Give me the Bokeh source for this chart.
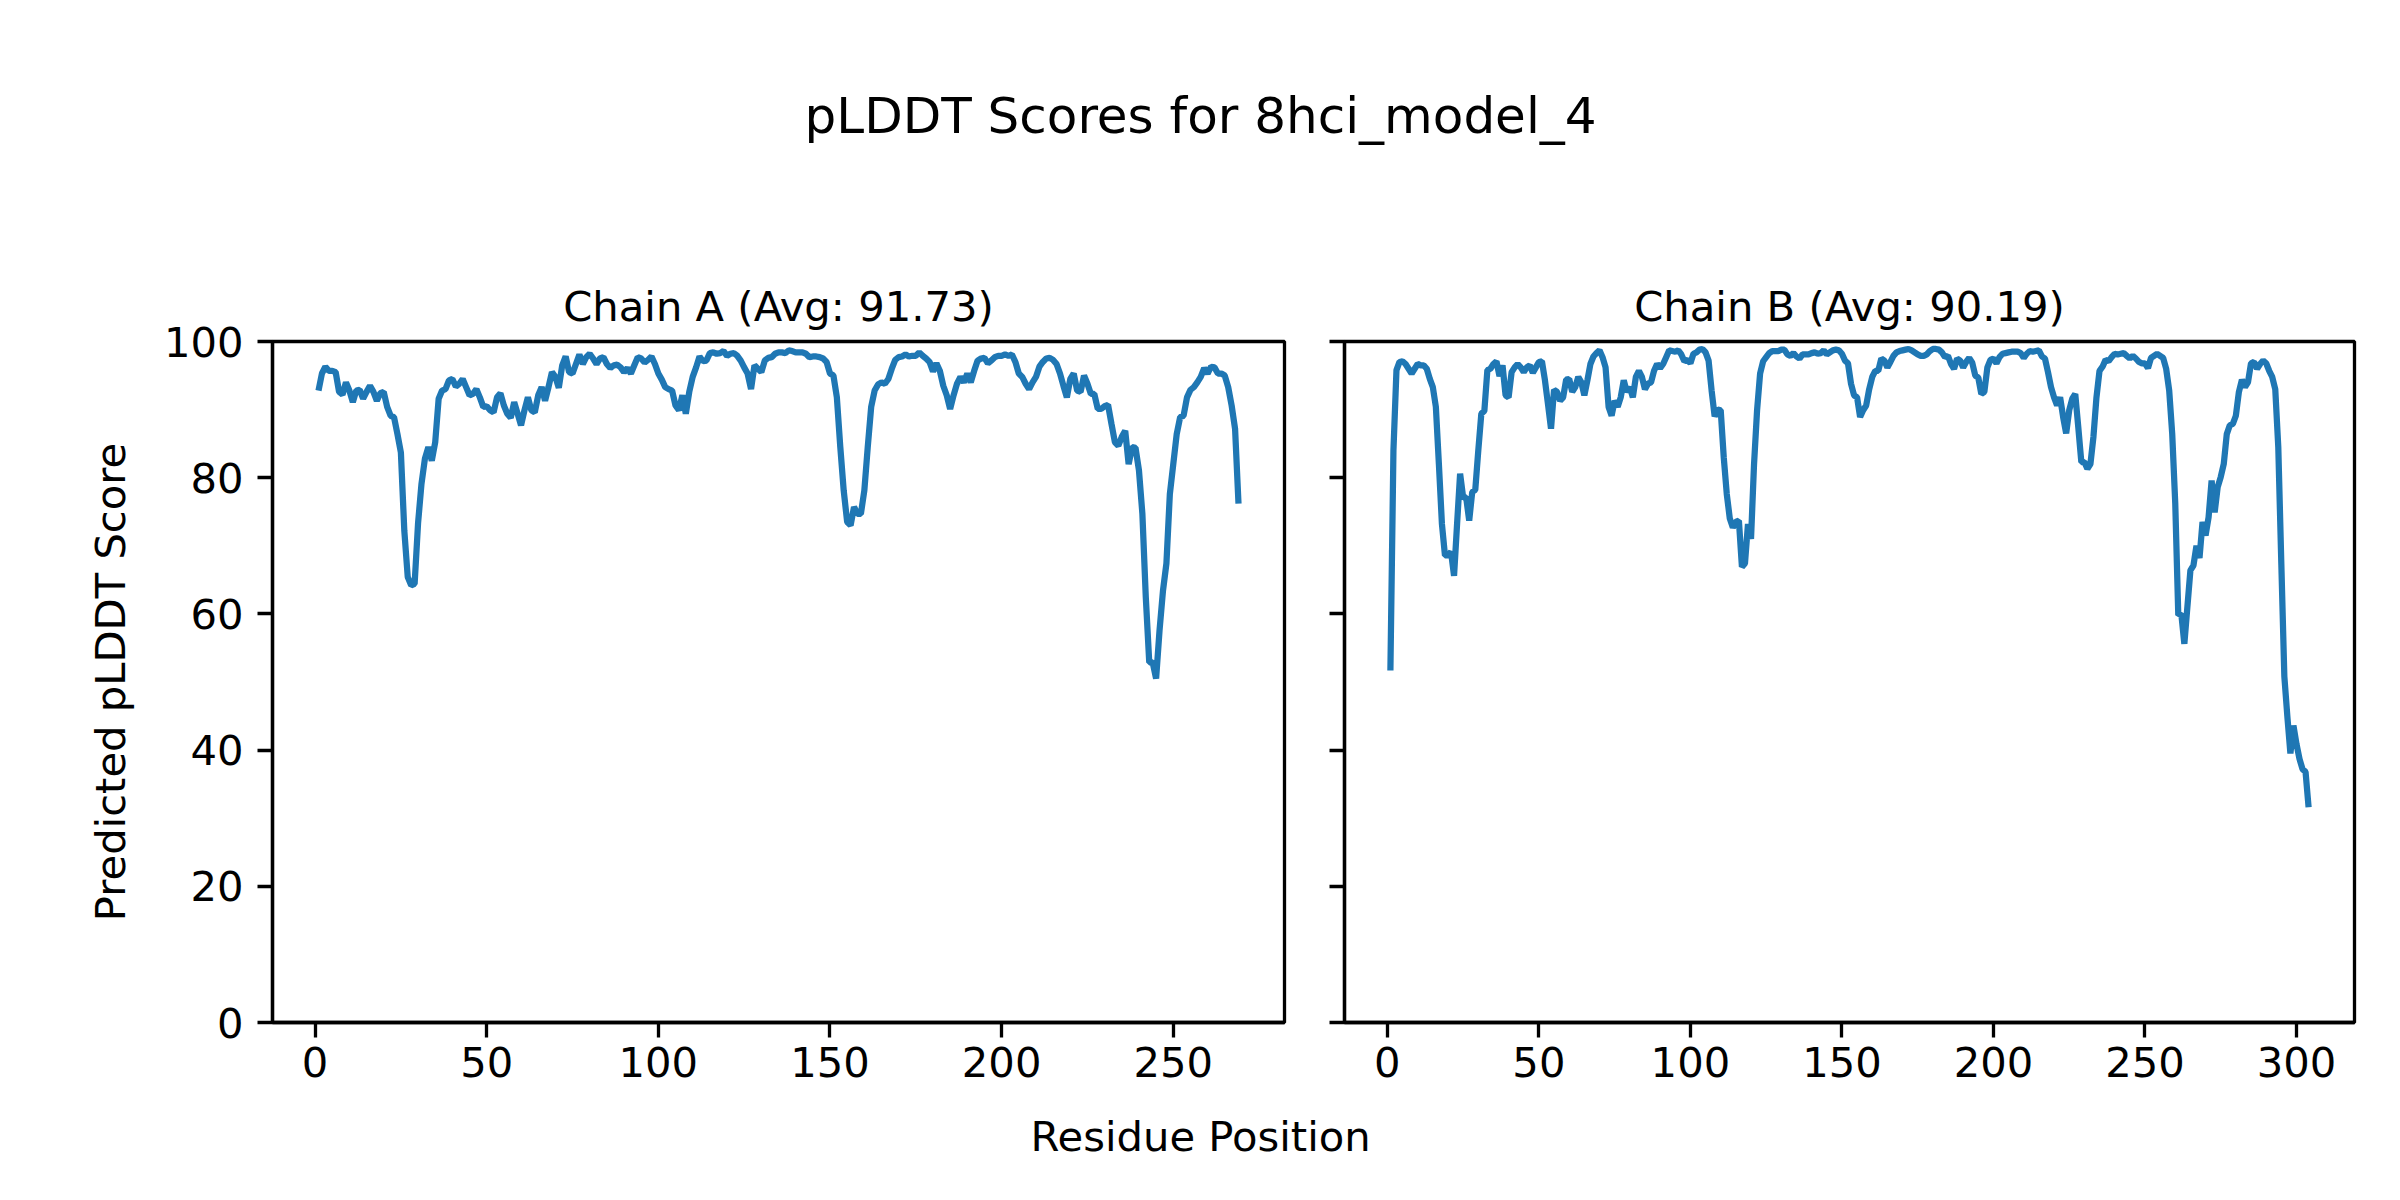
from bokeh.plotting import figure
from bokeh.models import Range1d, FixedTicker, CustomLabelingPolicy
from bokeh.layouts import column, row
from bokeh.embed import file_html
from bokeh.resources import INLINE
from bokeh.core.properties import value

main_title = "pLDDT Scores for 8hci_model_4"
x_label = "Residue Position"
y_label = "Predicted pLDDT Score"
title_a = "Chain A (Avg: 91.73)"
title_b = "Chain B (Avg: 90.19)"

xticks_a = [0, 50, 100, 150, 200, 250]
xticks_b = [0, 50, 100, 150, 200, 250, 300]
yticks = [0, 20, 40, 60, 80, 100]

scores_a = [
    92.8, 95.3, 96.3, 95.7, 95.7, 95.5, 92.6, 92.2, 94.0, 92.8,
    91.1, 92.8, 92.9, 91.6, 92.6, 93.5, 92.6, 91.3, 92.4, 92.6,
    90.4, 89.1, 88.9, 86.4, 83.7, 72.2, 65.4, 64.2, 64.4, 73.3,
    79.1, 82.8, 84.5, 82.5, 85.2, 91.6, 92.8, 93.0, 94.3, 94.5,
    93.4, 93.8, 94.5, 93.3, 92.1, 92.3, 93.0, 91.8, 90.4, 90.5,
    89.9, 89.6, 91.8, 92.4, 90.6, 89.4, 88.8, 91.1, 89.4, 87.7,
    89.9, 91.8, 89.9, 89.6, 92.1, 93.3, 91.3, 93.3, 95.5, 94.8,
    93.2, 96.5, 97.8, 95.5, 95.3, 96.7, 98.1, 96.7, 97.7, 98.2,
    97.5, 96.7, 97.5, 97.7, 96.7, 96.1, 96.5, 96.6, 96.2, 95.5,
    96.1, 95.3, 96.5, 97.7, 97.5, 96.9, 97.3, 97.8, 96.7, 95.3,
    94.4, 93.3, 93.0, 92.8, 90.6, 89.9, 92.1, 89.4, 92.6, 94.8,
    96.2, 97.8, 97.1, 97.2, 98.3, 98.4, 98.2, 98.3, 98.6, 97.9,
    98.2, 98.3, 97.9, 97.2, 96.2, 95.3, 93.0, 96.5, 96.0, 95.5,
    97.2, 97.6, 97.7, 98.2, 98.4, 98.4, 98.3, 98.7, 98.6, 98.4,
    98.4, 98.4, 98.2, 97.7, 97.8, 97.8, 97.7, 97.5, 97.0, 95.3,
    95.0, 91.8, 84.5, 78.1, 73.5, 73.0, 75.7, 74.7, 74.7, 78.1,
    84.5, 90.4, 92.8, 93.7, 94.0, 93.8, 94.5, 96.0, 97.3, 97.7,
    97.8, 98.1, 97.8, 97.9, 97.9, 98.4, 97.9, 97.5, 97.0, 95.6,
    96.8, 95.7, 93.5, 92.1, 90.1, 92.1, 93.8, 94.8, 94.0, 95.3,
    94.0, 95.7, 97.2, 97.5, 97.6, 96.8, 97.2, 97.7, 97.9, 97.9,
    98.1, 97.9, 98.1, 97.0, 95.3, 94.8, 93.8, 93.0, 94.0, 94.8,
    96.3, 97.0, 97.5, 97.6, 97.3, 96.7, 95.3, 93.5, 91.8, 94.5,
    95.3, 92.8, 92.6, 95.0, 93.8, 92.3, 92.3, 90.1, 90.1, 90.5,
    90.7, 87.9, 85.2, 84.7, 86.0, 86.9, 82.0, 84.5, 84.4, 81.1,
    74.7, 62.4, 52.9, 52.9, 50.5, 57.6, 63.4, 67.4, 77.6, 82.0,
    86.4, 88.9, 89.1, 91.8, 92.9, 93.3, 94.0, 94.8, 96.1, 95.3,
    96.3, 96.2, 95.3, 95.3, 95.0, 93.3, 90.6, 87.2, 76.2,
]

scores_b = [
    51.7, 84.0, 95.8, 97.0, 97.1, 96.7, 96.0, 95.3, 96.0, 96.7,
    96.5, 96.5, 96.0, 94.5, 93.3, 90.4, 82.0, 73.2, 68.6, 68.6,
    69.1, 65.6, 73.2, 80.6, 77.1, 77.1, 73.7, 77.9, 78.2, 84.0,
    89.4, 89.8, 95.8, 96.0, 96.7, 97.1, 94.9, 96.5, 92.1, 91.8,
    95.5, 96.2, 96.7, 96.2, 95.5, 96.2, 96.5, 95.4, 96.2, 97.0,
    97.1, 94.3, 90.8, 87.2, 92.9, 92.6, 91.3, 91.8, 94.4, 94.5,
    92.6, 93.3, 94.8, 94.0, 92.1, 94.3, 96.7, 97.8, 98.3, 98.7,
    97.7, 96.2, 90.4, 89.1, 91.3, 90.4, 91.8, 94.3, 92.6, 93.3,
    91.8, 94.8, 95.7, 94.8, 93.0, 93.8, 94.0, 95.7, 96.7, 96.1,
    96.7, 97.7, 98.7, 98.6, 98.5, 98.7, 98.1, 97.1, 97.3, 96.8,
    98.2, 98.4, 98.8, 98.9, 98.4, 97.2, 92.8, 89.0, 90.0, 89.9,
    83.0, 77.6, 74.0, 72.7, 73.5, 73.7, 66.9, 67.4, 73.2, 71.0,
    82.0, 89.9, 95.3, 97.1, 97.7, 98.3, 98.6, 98.6, 98.6, 98.8,
    98.8, 98.1, 97.9, 98.3, 97.8, 97.5, 98.1, 98.1, 98.1, 98.3,
    98.4, 98.2, 98.3, 98.7, 98.1, 98.4, 98.7, 98.8, 98.7, 98.2,
    97.2, 96.8, 93.8, 92.1, 91.8, 88.9, 89.9, 90.6, 93.0, 94.8,
    95.7, 95.7, 97.5, 97.2, 96.2, 97.0, 97.9, 98.4, 98.6, 98.7,
    98.8, 98.9, 98.7, 98.4, 98.1, 97.9, 97.9, 98.1, 98.6, 98.9,
    98.9, 98.8, 98.4, 97.7, 97.9, 96.7, 96.0, 97.5, 97.2, 96.2,
    97.0, 97.6, 96.9, 95.0, 94.7, 92.3, 92.6, 96.2, 97.3, 97.5,
    96.8, 97.7, 98.2, 98.3, 98.4, 98.5, 98.5, 98.5, 98.3, 97.6,
    98.2, 98.6, 98.5, 98.6, 98.7, 97.8, 97.5, 95.5, 93.3, 91.8,
    90.6, 91.8, 88.9, 86.5, 89.9, 91.6, 92.3, 87.4, 82.3, 82.3,
    81.3, 82.0, 86.0, 91.8, 95.7, 96.3, 97.3, 97.1, 97.7, 98.2,
    98.1, 98.2, 98.3, 97.9, 97.5, 97.9, 97.5, 97.0, 96.8, 96.8,
    96.1, 97.6, 97.9, 98.2, 97.9, 97.6, 96.0, 92.8, 86.4, 76.2,
    59.8, 60.0, 55.6, 61.0, 66.4, 67.1, 70.0, 68.2, 73.5, 71.5,
    74.2, 79.6, 74.9, 78.6, 80.1, 82.0, 86.4, 87.7, 87.9, 89.1,
    92.6, 94.4, 93.3, 94.0, 96.8, 97.0, 96.0, 96.7, 97.2, 96.8,
    95.7, 94.8, 93.0, 84.5, 67.4, 50.8, 44.9, 39.5, 43.6, 40.9,
    38.7, 37.2, 36.8, 31.6,
]

res_a = list(range(1, len(scores_a) + 1))
res_b = list(range(1, len(scores_b) + 1))

FONT = "DejaVu Sans"
FS = "41.7px"
LINE_COLOR = "#1f77b4"


def blank_fig(w, h):
    f = figure(width=w, height=h, x_range=Range1d(0, 1), y_range=Range1d(0, 1),
               x_axis_location=None, y_axis_location=None, min_border=0,
               toolbar_location=None, output_backend="svg")
    f.grid.visible = False
    f.outline_line_color = None
    return f


header = blank_fig(2392, 208)
header.text(x=[0.5017], y=[0.447], text=[main_title], text_align="center",
            text_baseline="middle", text_font=value(FONT), text_font_size="50px",
            text_color="black")

footer = blank_fig(2392, 82)
footer.text(x=[0.5017], y=[0.561], text=[x_label], text_align="center",
            text_baseline="middle", text_font=value(FONT), text_font_size=FS,
            text_color="black")

no_labels = CustomLabelingPolicy(
    code="for (const i of [...indices]) { indices.unset(i) } return indices")


def panel(w, title, xr, xticks, mbl, mbr, res, scores, show_ylabels):
    p = figure(width=w, height=892, x_range=Range1d(*xr), y_range=Range1d(0, 100),
               min_border_left=mbl, min_border_right=mbr, min_border_top=133,
               min_border_bottom=78, toolbar_location=None, output_backend="svg",
               title=title)
    p.title.align = "center"
    p.title.text_font = FONT
    p.title.text_font_size = FS
    p.title.text_font_style = "normal"
    p.title.text_color = "black"
    p.title.standoff = 22
    p.grid.visible = False
    p.outline_line_color = "black"
    p.outline_line_width = 3.3
    p.outline_line_alpha = 1
    p.xaxis.ticker = FixedTicker(ticks=xticks)
    p.yaxis.ticker = FixedTicker(ticks=yticks)
    for ax in p.axis:
        ax.axis_line_width = 3.3
        ax.axis_line_color = "black"
        ax.major_tick_line_width = 3.3
        ax.major_tick_line_color = "black"
        ax.major_tick_out = 15
        ax.major_tick_in = 0
        ax.minor_tick_out = 0
        ax.minor_tick_in = 0
        ax.major_label_text_font = FONT
        ax.major_label_text_font_size = FS
        ax.major_label_text_color = "black"
    p.xaxis.major_label_standoff = 9
    p.yaxis.major_label_standoff = 14
    if show_ylabels:
        p.yaxis.axis_label = y_label
        p.yaxis.axis_label_text_font = FONT
        p.yaxis.axis_label_text_font_size = FS
        p.yaxis.axis_label_text_font_style = "normal"
        p.yaxis.axis_label_text_color = "black"
        p.yaxis.axis_label_standoff = 26
    else:
        p.yaxis.major_label_policy = no_labels
        p.yaxis.major_label_text_font_size = "0px"
        p.yaxis.major_label_standoff = 0
    p.line(res, scores, line_color=LINE_COLOR, line_width=6.25)
    return p


pA = panel(1314, title_a, (-12.4, 282.4), xticks_a, 272, 30, res_a, scores_a, True)
pB = panel(1078, title_b, (-14.15, 319.15), xticks_b, 30, 38, res_b, scores_b, False)

layout = column(header, row(pA, pB), footer)
open("out.html", "w").write(file_html(layout, INLINE))
